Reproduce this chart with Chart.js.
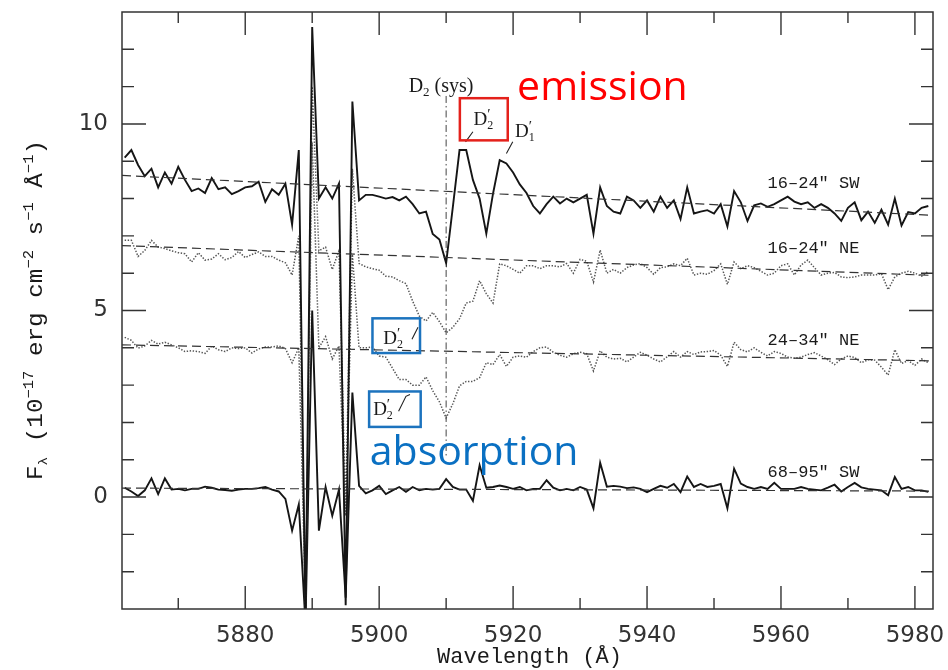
<!DOCTYPE html>
<html>
<head>
<meta charset="utf-8">
<script src="https://cdn.jsdelivr.net/npm/chart.js@4.4.1/dist/chart.umd.min.js"></script>
<style>
  html, body { margin: 0; padding: 0; background: #fff; }
  #wrap { width: 948px; height: 670px; }
</style>
</head>
<body>
<div id="wrap"><canvas id="spec" width="948" height="670"></canvas></div>
<script>
// wavelength grid (A)
const wavelength = [
  5862, 5863, 5864, 5865, 5866, 5867, 5868, 5869, 5870, 5871,
  5872, 5873, 5874, 5875, 5876, 5877, 5878, 5879, 5880, 5881,
  5882, 5883, 5884, 5885, 5886, 5887, 5888, 5889, 5890, 5891,
  5892, 5893, 5894, 5895, 5896, 5897, 5898, 5899, 5900, 5901,
  5902, 5903, 5904, 5905, 5906, 5907, 5908, 5909, 5910, 5911,
  5912, 5913, 5914, 5915, 5916, 5917, 5918, 5919, 5920, 5921,
  5922, 5923, 5924, 5925, 5926, 5927, 5928, 5929, 5930, 5931,
  5932, 5933, 5934, 5935, 5936, 5937, 5938, 5939, 5940, 5941,
  5942, 5943, 5944, 5945, 5946, 5947, 5948, 5949, 5950, 5951,
  5952, 5953, 5954, 5955, 5956, 5957, 5958, 5959, 5960, 5961,
  5962, 5963, 5964, 5965, 5966, 5967, 5968, 5969, 5970, 5971,
  5972, 5973, 5974, 5975, 5976, 5977, 5978, 5979, 5980, 5981,
  5982
];

// 16-24" SW
const fluxSW16 = [
  9.1, 9.3, 8.9, 8.6, 8.8, 8.3, 8.7, 8.4, 8.85, 8.5,
  8.2, 8.27, 8.15, 8.55, 8.25, 8.3, 8.12, 8.2, 8.3, 8.33,
  8.45, 7.91, 8.25, 8.1, 8.4, 7.3, 9.3, -3.3, 12.6, 8.0,
  8.3, 8.0, 8.4, -2.9, 10.6, 7.95, 8.1, 8.1, 8.05, 8.0,
  8.04, 7.95, 8.05, 7.85, 7.6, 7.65, 7.05, 6.9, 6.27, 7.77,
  9.3, 9.3, 8.5, 8.0, 7.06, 8.13, 9.03, 8.94, 8.7, 8.38,
  8.15, 7.8, 7.6, 7.85, 8.05, 7.87, 8.0, 7.9, 8.0, 8.1,
  7.06, 8.3, 7.8, 7.65, 7.6, 8.05, 7.95, 7.75, 7.95, 7.65,
  8.05, 7.75, 7.95, 7.45, 8.3, 7.6, 7.65, 7.69, 7.6, 7.85,
  7.25, 8.2, 7.9, 7.4, 7.82, 7.87, 7.78, 7.85, 7.95, 8.05,
  7.92, 7.85, 7.9, 7.75, 7.85, 7.75, 7.6, 7.4, 7.75, 7.9,
  7.42, 7.65, 7.35, 7.7, 7.3, 8.0, 7.28, 7.64, 7.6, 7.75,
  7.8
];

// 16-24" NE
const fluxNE16 = [
  6.88, 6.88, 6.45, 6.61, 6.88, 6.7, 6.66, 6.6, 6.55, 6.52,
  6.3, 6.55, 6.35, 6.38, 6.52, 6.36, 6.42, 6.58, 6.42, 6.5,
  6.57, 6.45, 6.45, 6.35, 6.28, 5.95, 7.0, -3.2, 11.0, 6.6,
  6.7, 6.1, 6.6, -0.3, 8.8, 6.26, 6.17, 6.12, 6.08, 5.92,
  5.9, 5.8, 5.72, 5.25, 4.85, 4.72, 4.95, 4.7, 4.4, 4.55,
  4.78, 5.2, 5.25, 5.8, 5.45, 5.2, 6.25, 6.2, 6.1, 6.0,
  6.2, 6.2, 6.12, 6.2, 6.2, 6.17, 6.26, 6.0, 6.37, 6.32,
  5.76, 6.62, 6.0, 6.1, 6.0, 6.15, 6.22, 6.26, 6.15, 5.97,
  6.15, 6.17, 6.25, 6.2, 6.4, 5.95, 6.0, 5.97, 6.07, 6.25,
  5.7, 6.3, 6.12, 6.2, 6.15, 6.05, 5.95, 6.0, 6.2, 6.25,
  5.95, 6.22, 6.35, 6.15, 5.95, 6.0, 6.02, 5.9, 5.88, 5.9,
  5.95, 5.95, 5.95, 5.99, 5.56, 5.9, 6.0, 6.05, 6.0, 5.92,
  6.05
];

// 24-34" NE
const fluxNE24 = [
  4.28, 4.2, 3.99, 4.05, 4.2, 4.1, 4.15, 4.08, 4.0, 3.9,
  3.92, 3.9, 3.85, 4.05, 3.95, 3.9, 4.0, 3.98, 4.0, 3.86,
  3.97, 4.02, 4.02, 4.05, 3.98, 3.6, 4.0, -2.8, 9.5, 4.0,
  4.3, 3.7, 4.05, -0.5, 6.5, 4.0, 4.0, 4.02, 3.78, 3.75,
  3.45, 3.15, 3.15, 3.0, 3.0, 3.22, 2.85, 2.55, 2.12, 2.5,
  2.98, 3.1, 3.1, 3.2, 3.6, 3.55, 3.82, 3.5, 3.75, 3.78,
  3.75, 3.9, 4.0, 4.02, 3.88, 3.8, 3.75, 3.84, 3.88, 3.84,
  3.38, 3.92, 3.75, 3.7, 3.72, 3.62, 3.75, 3.88, 3.8, 3.7,
  3.62, 3.76, 3.9, 3.75, 3.9, 3.82, 3.89, 3.9, 3.93, 3.8,
  3.5, 4.15, 3.95, 3.89, 4.0, 3.88, 3.78, 3.9, 3.85, 3.75,
  3.72, 3.75, 3.82, 3.87, 3.78, 3.68, 3.55, 3.7, 3.78, 3.74,
  3.6, 3.68, 3.67, 3.48, 3.27, 3.95, 3.58, 3.66, 3.53, 3.7,
  3.6
];

// 68-95" SW
const fluxSW68 = [
  0.25, 0.15, 0.03, 0.18, 0.5, 0.08, 0.5, 0.2, 0.22, 0.18,
  0.22, 0.22, 0.28, 0.25, 0.2, 0.19, 0.17, 0.2, 0.22, 0.22,
  0.24, 0.27, 0.2, 0.15, -0.05, -0.9, -0.2, -3.4, 5.0, -0.9,
  0.27, -0.5, 0.2, -2.7, 2.8, 0.3, 0.1, 0.18, 0.3, 0.08,
  0.18, 0.27, 0.14, 0.27, 0.18, 0.22, 0.2, 0.22, 0.48, 0.27,
  0.2, 0.2, -0.1, 0.85, 0.25, 0.27, 0.31, 0.27, 0.22, 0.27,
  0.18, 0.22, 0.22, 0.45, 0.25, 0.18, 0.22, 0.18, 0.27, 0.2,
  -0.3, 0.92, 0.28, 0.3, 0.28, 0.24, 0.26, 0.22, 0.13, 0.22,
  0.3, 0.25, 0.35, 0.13, 0.55, 0.27, 0.35, 0.27, 0.3, 0.35,
  -0.3, 0.76, 0.36, 0.27, 0.22, 0.27, 0.22, 0.38, 0.22, 0.22,
  0.22, 0.27, 0.22, 0.2, 0.18, 0.25, 0.33, 0.15, 0.27, 0.38,
  0.26, 0.22, 0.2, 0.18, 0.05, 0.54, 0.22, 0.27, 0.18, 0.18,
  0.14
];

// fitted continua (value at left and right edge), same order as the spectra
const continuumStart = [8.62, 6.74, 4.08, 0.24];
const continuumEnd = [7.55, 5.94, 3.65, 0.16];
const seriesNames = ['16\u201324" SW', '16\u201324" NE', '24\u201334" NE', '68\u201395" SW'];
const seriesLabelY = [8.27, 6.53, 4.07, 0.53];

const xRange = [5861.6, 5982.7];
const yRange = [-3, 13];
const xTickLabels = [5880, 5900, 5920, 5940, 5960, 5980];
const yTickLabels = [0, 5, 10];

// systemic D2 marker
const sysWave = 5910;
const sysSpan = [10.75, 1.1];

function pts(vals) {
  return wavelength.map((w, i) => ({ x: w, y: vals[i] }));
}

const solid = { borderColor: '#151515', borderWidth: 1.9, pointRadius: 0, tension: 0, fill: false };
const dotted = { borderColor: '#555', borderWidth: 1.5, borderDash: [1.4, 1.6], pointRadius: 0, tension: 0, fill: false };
const dashed = { borderColor: '#333', borderWidth: 1.2, borderDash: [9, 5], pointRadius: 0, fill: false };

const datasets = [];
continuumStart.forEach((v, i) => {
  datasets.push(Object.assign({ data: [{ x: xRange[0], y: v }, { x: xRange[1], y: continuumEnd[i] }] }, dashed));
});
datasets.push(Object.assign({ data: pts(fluxSW16) }, solid));
datasets.push(Object.assign({ data: pts(fluxNE16) }, dotted));
datasets.push(Object.assign({ data: pts(fluxNE24) }, dotted));
datasets.push(Object.assign({ data: pts(fluxSW68) }, solid));
datasets.push({
  data: [{ x: sysWave, y: sysSpan[0] }, { x: sysWave, y: sysSpan[1] }],
  borderColor: '#444', borderWidth: 1, borderDash: [7, 3, 1.5, 3], pointRadius: 0
});

// draw text made of pieces (sub/superscripts)
function drawParts(ctx, x, y, parts, family) {
  let cx = x;
  parts.forEach(p => {
    ctx.font = p.size + 'px ' + family;
    ctx.fillText(p.t, cx, y + (p.dy || 0));
    if (!p.stay) cx += ctx.measureText(p.t).width;
  });
  return cx - x;
}
function partsWidth(ctx, parts, family) {
  let w = 0;
  parts.forEach(p => {
    ctx.font = p.size + 'px ' + family;
    if (!p.stay) w += ctx.measureText(p.t).width;
  });
  return w;
}

const dPrime = [
  { t: 'D', size: 19 },
  { t: '\u2032', size: 15, dy: -6, stay: true },
  { t: '2', size: 12, dy: 4 }
];
const dPrime1 = [
  { t: 'D', size: 19 },
  { t: '\u2032', size: 15, dy: -6, stay: true },
  { t: '1', size: 12, dy: 4 }
];

const overlay = {
  id: 'overlay',
  afterDraw(chart) {
    const ctx = chart.ctx;
    const a = chart.chartArea;
    const x = chart.scales.x, y = chart.scales.y;
    const px = v => x.getPixelForValue(v);
    const py = v => y.getPixelForValue(v);
    ctx.save();

    // frame
    ctx.strokeStyle = '#333';
    ctx.lineWidth = 1.5;
    ctx.strokeRect(a.left, a.top, a.right - a.left, a.bottom - a.top);

    // inward ticks
    ctx.lineWidth = 1.4;
    ctx.beginPath();
    for (let w = 5870; w <= 5980; w += 10) {
      const X = px(w), len = (w % 20 === 0) ? 23 : 11;
      ctx.moveTo(X, a.bottom); ctx.lineTo(X, a.bottom - len);
      ctx.moveTo(X, a.top); ctx.lineTo(X, a.top + len);
    }
    for (let v = -2; v <= 12; v++) {
      const Y = py(v), len = (v % 5 === 0) ? 24 : 12;
      ctx.moveTo(a.left, Y); ctx.lineTo(a.left + len, Y);
      ctx.moveTo(a.right, Y); ctx.lineTo(a.right - len, Y);
    }
    ctx.stroke();

    ctx.fillStyle = '#1a1a1a';
    ctx.textBaseline = 'alphabetic';
    ctx.textAlign = 'left';

    // spectrum labels
    ctx.font = '17px "Liberation Mono"';
    seriesNames.forEach((s, i) => ctx.fillText(s, px(5958.0), py(seriesLabelY[i])));

    // D2 (sys)
    drawParts(ctx, px(5904.4), py(10.85), [
      { t: 'D', size: 20 }, { t: '2', size: 13, dy: 4 }, { t: ' (sys)', size: 20 }
    ], '"Liberation Serif"');

    // D2', D1' labels with leader lines
    drawParts(ctx, px(5914.1), py(9.96), dPrime, '"Liberation Serif"');
    drawParts(ctx, px(5920.3), py(9.64), dPrime1, '"Liberation Serif"');
    drawParts(ctx, px(5900.6), py(4.09), dPrime, '"Liberation Serif"');
    drawParts(ctx, px(5899.1), py(2.19), dPrime, '"Liberation Serif"');
    ctx.strokeStyle = '#222';
    ctx.lineWidth = 1.1;
    ctx.beginPath();
    ctx.moveTo(px(5912.9), py(9.52)); ctx.lineTo(px(5914.0), py(9.79));
    ctx.moveTo(px(5919.0), py(9.21)); ctx.lineTo(px(5919.95), py(9.52));
    ctx.moveTo(px(5904.9), py(4.23)); ctx.lineTo(px(5905.8), py(4.55));
    ctx.moveTo(px(5902.9), py(2.30)); ctx.lineTo(px(5904.0), py(2.70)); ctx.lineTo(px(5904.6), py(2.75));
    ctx.stroke();

    // highlight boxes
    const box = (x1, y1, x2, y2) => ctx.strokeRect(px(x1), py(y1), px(x2) - px(x1), py(y2) - py(y1));
    ctx.lineWidth = 2.5;
    ctx.strokeStyle = '#E4211B';
    box(5912.05, 10.69, 5919.2, 9.56);
    ctx.strokeStyle = '#1C73BE';
    box(5899.0, 4.79, 5906.1, 3.86);
    box(5898.5, 2.83, 5906.2, 1.88);

    ctx.font = '41px "Open Sans"';
    ctx.fillStyle = '#FF0000';
    ctx.fillText('emission', px(5920.6), py(10.63));
    ctx.fillStyle = '#0A70C2';
    ctx.fillText('absorption', px(5898.6), py(0.85));

    // axis titles
    ctx.fillStyle = '#1a1a1a';
    ctx.font = '22px "Liberation Mono"';
    ctx.textAlign = 'center';
    ctx.fillText('Wavelength (\u00c5)', (a.left + a.right) / 2 + 2, 663);

    ctx.textAlign = 'left';
    const fam = '"Liberation Mono"';
    const yParts = [
      { t: 'F', size: 22 }, { t: '\u03bb', size: 13, dy: 5 },
      { t: ' (10', size: 22 }, { t: '\u221217', size: 14, dy: -9 },
      { t: ' erg cm', size: 22 }, { t: '\u22122', size: 14, dy: -9 },
      { t: ' s', size: 22 }, { t: '\u22121', size: 14, dy: -9 },
      { t: ' \u00c5', size: 22 }, { t: '\u22121', size: 14, dy: -9 },
      { t: ')', size: 22 }
    ];
    const W = partsWidth(ctx, yParts, fam);
    ctx.translate(42, 310);
    ctx.rotate(-Math.PI / 2);
    ctx.scale(340 / W, 1);
    drawParts(ctx, -W / 2, 0, yParts, fam);
    ctx.restore();
  }
};

// keep the plot frame where the original has it: no extra edge padding for labels
function noEdgePadding(s) {
  s.paddingLeft = 0; s.paddingRight = 0; s.paddingTop = 0; s.paddingBottom = 0;
}

new Chart(document.getElementById('spec'), {
  type: 'line',
  data: { datasets: datasets },
  options: {
    responsive: false,
    animation: false,
    devicePixelRatio: 1,
    events: [],
    layout: { padding: { left: 0, top: 12, right: 15, bottom: 0 } },
    plugins: { legend: { display: false }, tooltip: { enabled: false } },
    scales: {
      x: {
        type: 'linear', min: xRange[0], max: xRange[1],
        afterBuildTicks: s => { s.ticks = xTickLabels.map(v => ({ value: v })); },
        afterFit: s => { s.height = 61; noEdgePadding(s); },
        grid: { display: false, drawTicks: false },
        border: { display: false },
        ticks: {
          font: { family: 'DejaVu Sans', size: 23 }, color: '#333', padding: 13,
          maxRotation: 0, autoSkip: false, callback: v => String(v)
        }
      },
      y: {
        type: 'linear', min: yRange[0], max: yRange[1],
        afterBuildTicks: s => { s.ticks = yTickLabels.map(v => ({ value: v })); },
        afterFit: s => { s.width = 122; noEdgePadding(s); },
        grid: { display: false, drawTicks: false },
        border: { display: false },
        ticks: { font: { family: 'DejaVu Sans', size: 23 }, color: '#333', padding: 14, callback: v => String(v) }
      }
    }
  },
  plugins: [overlay]
});
</script>
</body>
</html>
